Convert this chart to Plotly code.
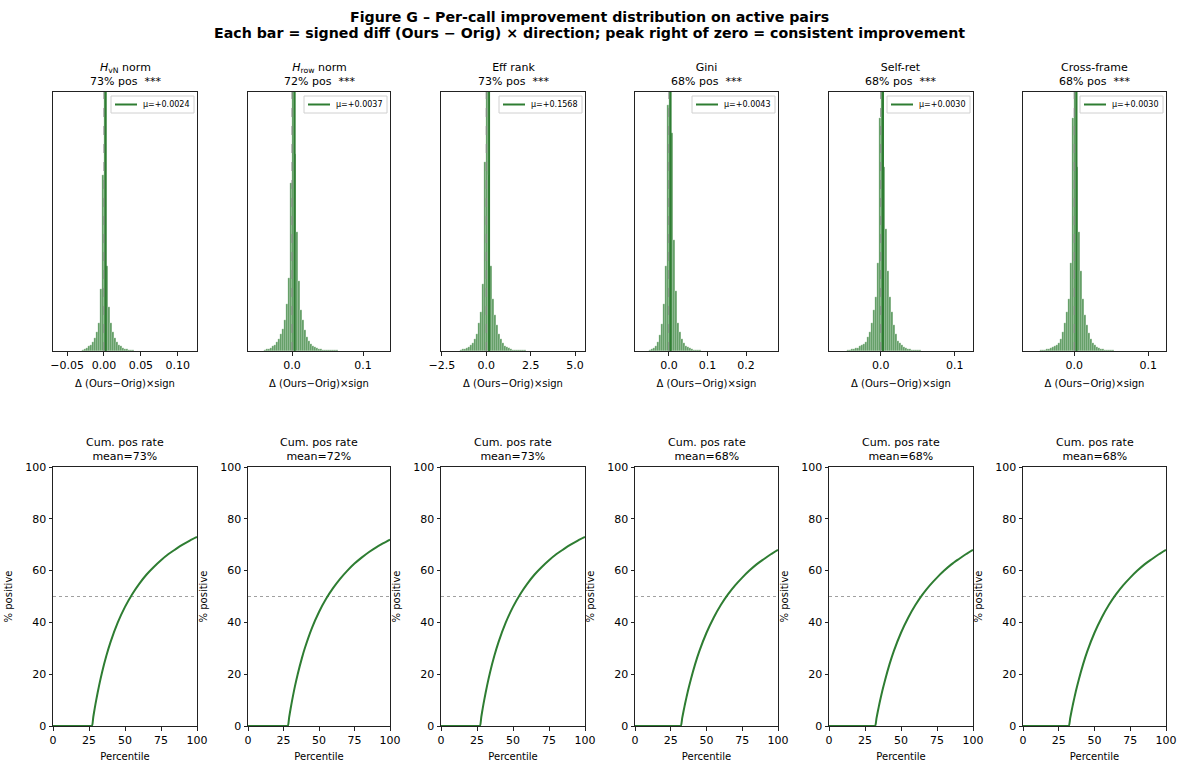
import plotly.graph_objects as go

FIG_W, FIG_H = 1178, 762

# ---------------- data ----------------
metric_names = ["<i>H</i><sub>vN</sub> norm", "<i>H</i><sub>row</sub> norm", "Eff rank",
                "Gini", "Self-ret", "Cross-frame"]
pos_pct = [73, 72, 73, 68, 68, 68]
means = [0.0024, 0.0037, 0.1568, 0.0043, 0.0030, 0.0030]
mean_labels = ["μ=+0.0024", "μ=+0.0037", "μ=+0.1568", "μ=+0.0043", "μ=+0.0030", "μ=+0.0030"]

# histogram bins (first edge, bin width) and relative bar heights
bin_first_edge = [-0.0297, -0.0392, -1.456, -0.052, -0.0459, -0.0459]
bin_width = [0.0027, 0.0028, 0.112, 0.0052, 0.0027, 0.0027]

hist_hvn = [0.005, 0.008, 0.012, 0.018, 0.025, 0.035, 0.05, 0.075, 0.11, 0.24, 0.68,
            1.10, 0.33, 0.17, 0.11, 0.075, 0.05, 0.035, 0.025, 0.018, 0.013, 0.009, 0.007,
            0.005, 0.004, 0.003]
hist_hrow = [0.004, 0.006, 0.009, 0.012, 0.018, 0.025, 0.035, 0.045, 0.065, 0.085, 0.12,
             0.18, 0.28, 0.65,
             1.10, 0.76, 0.46, 0.27, 0.16, 0.12, 0.08, 0.055, 0.04, 0.028, 0.02, 0.014,
             0.01, 0.008, 0.006, 0.005, 0.004, 0.003, 0.003, 0.002, 0.002, 0.002, 0.002]
hist_effrank = [0.004, 0.006, 0.009, 0.012, 0.016, 0.022, 0.03, 0.045, 0.067, 0.11, 0.15,
                0.26, 0.73,
                1.10, 0.68, 0.33, 0.20, 0.14, 0.10, 0.067, 0.045, 0.03, 0.02, 0.014, 0.01,
                0.007, 0.005, 0.004, 0.003, 0.003, 0.002, 0.002, 0.002]
hist_gini = [0.005, 0.008, 0.012, 0.02, 0.035, 0.06, 0.106, 0.18, 0.33, 0.95,
             1.10, 0.84, 0.43, 0.23, 0.11, 0.074, 0.045, 0.03, 0.02, 0.014, 0.01, 0.007,
             0.005, 0.004, 0.003, 0.002]
hist_selfret = [0.004, 0.005, 0.006, 0.008, 0.01, 0.013, 0.02, 0.025, 0.028, 0.035, 0.054,
                0.074, 0.11, 0.16, 0.21, 0.34, 0.90,
                1.10, 0.71, 0.47, 0.31, 0.21, 0.15, 0.10, 0.067, 0.04, 0.03, 0.022, 0.016,
                0.012, 0.009, 0.007, 0.005, 0.004, 0.003, 0.003, 0.002]
hist_crossframe = [0.003, 0.004, 0.005, 0.007, 0.009, 0.012, 0.016, 0.02, 0.025, 0.032,
                   0.048, 0.074, 0.11, 0.15, 0.20, 0.34, 0.90,
                   1.10, 0.71, 0.46, 0.31, 0.20, 0.14, 0.10, 0.07, 0.045, 0.032, 0.023,
                   0.016, 0.012, 0.009, 0.007, 0.005, 0.004, 0.003, 0.003, 0.002]
hist_heights = [hist_hvn, hist_hrow, hist_effrank, hist_gini, hist_selfret, hist_crossframe]

# cumulative positive rate curves (percentile, % positive)
cum_pct_a = [0, 26, 27, 28, 29, 30, 32, 34, 37, 40, 45, 50, 55, 60, 65, 70, 75, 80, 85, 90, 95, 100]
cum_val_a = [0, 0, 0, 3.57, 6.90, 10.0, 15.6, 20.6, 27.0, 32.5, 40.0, 46.0, 50.9, 55.0, 58.5,
             61.4, 64.0, 66.3, 68.2, 70.0, 71.6, 73.0]
cum_pct_b = [0, 27, 28, 29, 30, 31, 33, 35, 38, 40, 45, 50, 55, 60, 65, 70, 75, 80, 85, 90, 95, 100]
cum_val_b = [0, 0, 0, 3.45, 6.67, 9.68, 15.2, 20.0, 26.3, 30.0, 37.8, 44.0, 49.1, 53.3, 56.9,
             60.0, 62.7, 65.0, 67.1, 68.9, 70.5, 72.0]
cum_pct_c = [0, 31, 32, 33, 34, 35, 37, 39, 42, 45, 50, 55, 60, 65, 70, 75, 80, 85, 90, 95, 100]
cum_val_c = [0, 0, 0, 3.03, 5.88, 8.57, 13.5, 17.9, 23.8, 28.9, 36.0, 41.8, 46.7, 50.8, 54.3,
             57.3, 60.0, 62.4, 64.4, 66.3, 68.0]
cum_x = [cum_pct_a, cum_pct_b, cum_pct_a, cum_pct_c, cum_pct_c, cum_pct_c]
cum_y = [cum_val_a, cum_val_b, cum_val_a, cum_val_c, cum_val_c, cum_val_c]

hist_tickvals = [[-0.05, 0.0, 0.05, 0.10], [0.0, 0.1], [-2.5, 0.0, 2.5, 5.0],
                 [0.0, 0.1, 0.2], [0.0, 0.1], [0.0, 0.1]]
hist_ticktext = [["−0.05", "0.00", "0.05", "0.10"], ["0.0", "0.1"], ["−2.5", "0.0", "2.5", "5.0"],
                 ["0.0", "0.1", "0.2"], ["0.0", "0.1"], ["0.0", "0.1"]]
cum_tickvals_x = [0, 25, 50, 75, 100]
cum_tickvals_y = [0, 20, 40, 60, 80, 100]

# ---------------- layout / style ----------------
hist_xrange = [[-0.069, 0.126], [-0.062, 0.138], [-2.55, 5.56],
               [-0.088, 0.283], [-0.070, 0.1247], [-0.0693, 0.124]]
col_px = [(53, 197), (248, 390), (441, 585), (635, 778), (829, 973), (1023, 1166)]
top_row_px = (92, 351)
bot_row_px = (467, 726)

FONT = "DejaVu Sans"
GREEN = "#2e7d32"
BAR_COLOR = "rgba(46,125,50,0.8)"
AXLINE = "#222222"


def xdom(c):
    return [c[0] / FIG_W, c[1] / FIG_W]


def ydom(r):
    return [1 - r[1] / FIG_H, 1 - r[0] / FIG_H]


def px_x(v):
    return v / FIG_W


def px_y(v):
    return 1 - v / FIG_H


fig = go.Figure()
layout = dict(
    width=FIG_W, height=FIG_H,
    margin=dict(l=0, r=0, t=0, b=0),
    paper_bgcolor="white", plot_bgcolor="white",
    font=dict(family=FONT, color="#000000", size=11),
    bargap=0, showlegend=False,
)
annotations = []
shapes = []

for i in range(6):
    # ---- top row: histograms ----
    ax_n = i + 1
    xa = "x" if ax_n == 1 else f"x{ax_n}"
    ya = "y" if ax_n == 1 else f"y{ax_n}"
    heights = hist_heights[i]
    w = bin_width[i]
    centers = [bin_first_edge[i] + w * (k + 0.5) for k in range(len(heights))]
    fig.add_trace(go.Bar(x=centers, y=heights, width=w, xaxis=xa, yaxis=ya,
                         marker=dict(color=BAR_COLOR, line=dict(color="white", width=0.25)),
                         showlegend=False, hoverinfo="skip"))
    fig.add_trace(go.Scatter(x=[0, 0], y=[0, 1], xaxis=xa, yaxis=ya, mode="lines",
                             line=dict(color="#888888", width=1, dash="dash"),
                             showlegend=False, hoverinfo="skip"))
    fig.add_trace(go.Scatter(x=[means[i], means[i]], y=[0, 1], xaxis=xa, yaxis=ya,
                             mode="lines", line=dict(color=GREEN, width=2),
                             name=mean_labels[i], showlegend=False))
    xkey = "xaxis" if ax_n == 1 else f"xaxis{ax_n}"
    ykey = "yaxis" if ax_n == 1 else f"yaxis{ax_n}"
    layout[xkey] = dict(domain=xdom(col_px[i]), anchor=ya, range=hist_xrange[i],
                        tickvals=hist_tickvals[i], ticktext=hist_ticktext[i],
                        showline=True, mirror=True, linecolor=AXLINE, linewidth=1,
                        ticks="outside", ticklen=3.5, tickwidth=0.8, tickcolor=AXLINE,
                        showgrid=False, zeroline=False, automargin=False,
                        tickfont=dict(size=11),
                        title=dict(text="Δ (Ours−Orig)×sign", font=dict(size=10), standoff=9))
    layout[ykey] = dict(domain=ydom(top_row_px), anchor=xa, range=[0, 1],
                        showline=True, mirror=True, linecolor=AXLINE, linewidth=1,
                        showticklabels=False, ticks="", showgrid=False, zeroline=False,
                        automargin=False)
    cx = (col_px[i][0] + col_px[i][1]) / 2 / FIG_W
    annotations.append(dict(text=f"{metric_names[i]}<br>{pos_pct[i]}% pos \u00a0***",
                            x=cx, y=px_y(top_row_px[0]), xref="paper", yref="paper",
                            xanchor="center", yanchor="bottom", yshift=2, showarrow=False,
                            font=dict(size=11)))

    # ---- legend box (drawn) ----
    r = col_px[i][1]
    t = top_row_px[0]
    shapes.append(dict(type="rect", xref="paper", yref="paper",
                       x0=px_x(r - 86), x1=px_x(r - 3), y0=px_y(t + 21), y1=px_y(t + 4),
                       line=dict(color="#d0d0d0", width=1), fillcolor="rgba(255,255,255,0.85)",
                       layer="above"))
    shapes.append(dict(type="line", xref="paper", yref="paper",
                       x0=px_x(r - 82), x1=px_x(r - 60), y0=px_y(t + 12.5), y1=px_y(t + 12.5),
                       line=dict(color=GREEN, width=2), layer="above"))
    annotations.append(dict(text=mean_labels[i], x=px_x(r - 56), y=px_y(t + 12.5),
                            xref="paper", yref="paper", xanchor="left", yanchor="middle",
                            showarrow=False, font=dict(size=8)))

    # ---- bottom row: cumulative positive rate ----
    bn = i + 7
    xb = f"x{bn}"
    yb = f"y{bn}"
    fig.add_trace(go.Scatter(x=[0, 100], y=[50, 50], xaxis=xb, yaxis=yb, mode="lines",
                             line=dict(color="#888888", width=0.8, dash="dot"),
                             showlegend=False, hoverinfo="skip"))
    fig.add_trace(go.Scatter(x=cum_x[i], y=cum_y[i], xaxis=xb, yaxis=yb, mode="lines",
                             line=dict(color=GREEN, width=2, shape="spline", smoothing=0.8),
                             showlegend=False))
    layout[f"xaxis{bn}"] = dict(domain=xdom(col_px[i]), anchor=yb, range=[0, 100],
                                tickvals=cum_tickvals_x,
                                showline=True, mirror=True, linecolor=AXLINE, linewidth=1,
                                ticks="outside", ticklen=3.5, tickwidth=0.8, tickcolor=AXLINE,
                                showgrid=False, zeroline=False, automargin=False,
                                tickfont=dict(size=11),
                                title=dict(text="Percentile", font=dict(size=10), standoff=8))
    layout[f"yaxis{bn}"] = dict(domain=ydom(bot_row_px), anchor=xb, range=[0, 100],
                                tickvals=cum_tickvals_y,
                                showline=True, mirror=True, linecolor=AXLINE, linewidth=1,
                                ticks="outside", ticklen=3.5, tickwidth=0.8, tickcolor=AXLINE,
                                showgrid=False, zeroline=False, automargin=False,
                                tickfont=dict(size=11),
                                title=dict(text="% positive", font=dict(size=10), standoff=10))
    annotations.append(dict(text=f"Cum. pos rate<br>mean={pos_pct[i]}%",
                            x=cx, y=px_y(bot_row_px[0]), xref="paper", yref="paper",
                            xanchor="center", yanchor="bottom", yshift=2, showarrow=False,
                            font=dict(size=11)))

annotations.append(dict(
    text="<b>Figure G – Per-call improvement distribution on active pairs</b>",
    x=0.5, y=px_y(17), xref="paper", yref="paper", xanchor="center", yanchor="middle",
    showarrow=False, font=dict(size=14.2)))
annotations.append(dict(
    text="<b>Each bar = signed diff (Ours − Orig) × direction; peak right of zero = consistent improvement</b>",
    x=0.5, y=px_y(33), xref="paper", yref="paper", xanchor="center", yanchor="middle",
    showarrow=False, font=dict(size=14.2)))
layout["annotations"] = annotations
layout["shapes"] = shapes

fig.update_layout(**layout)
fig.write_html("out.html", config={"displayModeBar": False},
               post_script="document.body.style.margin='0px';")
